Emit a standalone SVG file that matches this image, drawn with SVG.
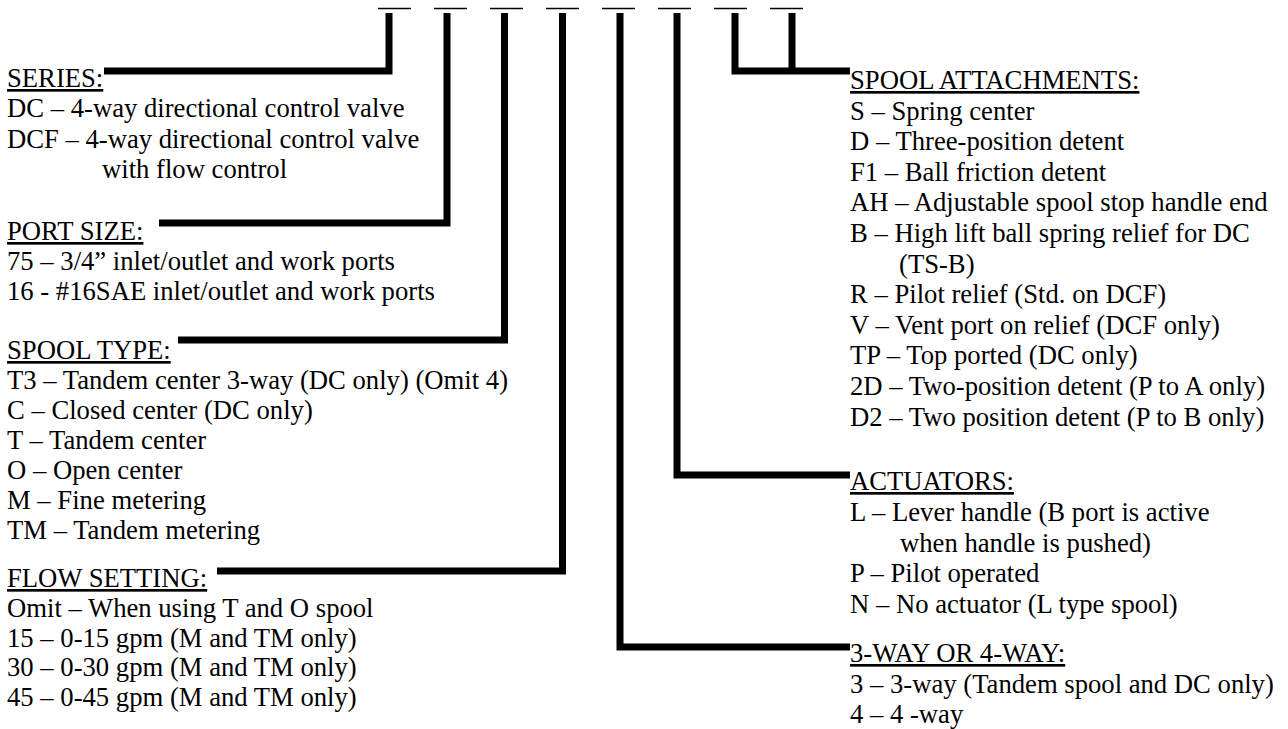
<svg xmlns="http://www.w3.org/2000/svg" width="1288" height="729" viewBox="0 0 1288 729">
<style>
text{font-family:"Liberation Serif","Times New Roman",serif;font-size:26.67px;fill:#000}
.h{text-decoration:underline}
.c{fill:none;stroke:#000;stroke-width:7;stroke-linejoin:miter;stroke-linecap:butt}
.d{stroke:#000;stroke-width:1.5}
</style>
<rect width="1288" height="729" fill="#fff"/>
<g id="blanks">
<line class="d" x1="378" y1="8.5" x2="411" y2="8.5"/>
<line class="d" x1="434" y1="8.5" x2="467" y2="8.5"/>
<line class="d" x1="490" y1="8.5" x2="523" y2="8.5"/>
<line class="d" x1="546" y1="8.5" x2="579" y2="8.5"/>
<line class="d" x1="602" y1="8.5" x2="635" y2="8.5"/>
<line class="d" x1="658" y1="8.5" x2="691" y2="8.5"/>
<line class="d" x1="714" y1="8.5" x2="747" y2="8.5"/>
<line class="d" x1="770" y1="8.5" x2="803" y2="8.5"/>
</g>
<g id="connectors">
<path class="c" d="M389 13V71H104"/>
<path class="c" d="M447 13V223H159"/>
<path class="c" d="M504.5 13V340H178"/>
<path class="c" d="M562.5 13V571H217"/>
<path class="c" d="M620 13V647H850"/>
<path class="c" d="M677 13V475H850"/>
<path class="c" d="M735 13V71H850"/>
<path class="c" d="M792 13V71"/>
</g>
<g id="series">
<text class="h" x="7" y="87">SERIES:</text>
<text x="7" y="117">DC – 4-way directional control valve</text>
<text x="7" y="147.5">DCF – 4-way directional control valve</text>
<text x="102" y="178">with flow control</text>
</g>
<g id="port-size">
<text class="h" x="7" y="240">PORT SIZE:</text>
<text x="7" y="270">75 – 3/4” inlet/outlet and work ports</text>
<text x="7" y="300">16 - #16SAE inlet/outlet and work ports</text>
</g>
<g id="spool-type">
<text class="h" x="7" y="359">SPOOL TYPE:</text>
<text x="7" y="389">T3 – Tandem center 3-way (DC only) (Omit 4)</text>
<text x="7" y="419">C – Closed center (DC only)</text>
<text x="7" y="449">T – Tandem center</text>
<text x="7" y="479">O – Open center</text>
<text x="7" y="509">M – Fine metering</text>
<text x="7" y="539">TM – Tandem metering</text>
</g>
<g id="flow-setting">
<text class="h" x="7" y="587">FLOW SETTING:</text>
<text x="7" y="617">Omit – When using T and O spool</text>
<text x="7" y="646.5">15 – 0-15 gpm (M and TM only)</text>
<text x="7" y="676">30 – 0-30 gpm (M and TM only)</text>
<text x="7" y="706">45 – 0-45 gpm (M and TM only)</text>
</g>
<g id="spool-attachments">
<text class="h" x="850" y="89">SPOOL ATTACHMENTS:</text>
<text x="850" y="119.6">S – Spring center</text>
<text x="850" y="150.2">D – Three-position detent</text>
<text x="850" y="180.8">F1 – Ball friction detent</text>
<text x="850" y="211.4">AH – Adjustable spool stop handle end</text>
<text x="850" y="242">B – High lift ball spring relief for DC</text>
<text x="899" y="272.6">(TS-B)</text>
<text x="850" y="303.2">R – Pilot relief (Std. on DCF)</text>
<text x="850" y="333.8">V – Vent port on relief (DCF only)</text>
<text x="850" y="364.4">TP – Top ported (DC only)</text>
<text x="850" y="395">2D – Two-position detent (P to A only)</text>
<text x="850" y="425.6">D2 – Two position detent (P to B only)</text>
</g>
<g id="actuators">
<text class="h" x="850" y="490">ACTUATORS:</text>
<text x="850" y="521">L – Lever handle (B port is active</text>
<text x="900" y="551.5">when handle is pushed)</text>
<text x="850" y="582">P – Pilot operated</text>
<text x="850" y="612.5">N – No actuator (L type spool)</text>
</g>
<g id="way">
<text class="h" x="850" y="662">3-WAY OR 4-WAY:</text>
<text x="850" y="692.5">3 – 3-way (Tandem spool and DC only)</text>
<text x="850" y="723">4 – 4 -way</text>
</g>
</svg>
